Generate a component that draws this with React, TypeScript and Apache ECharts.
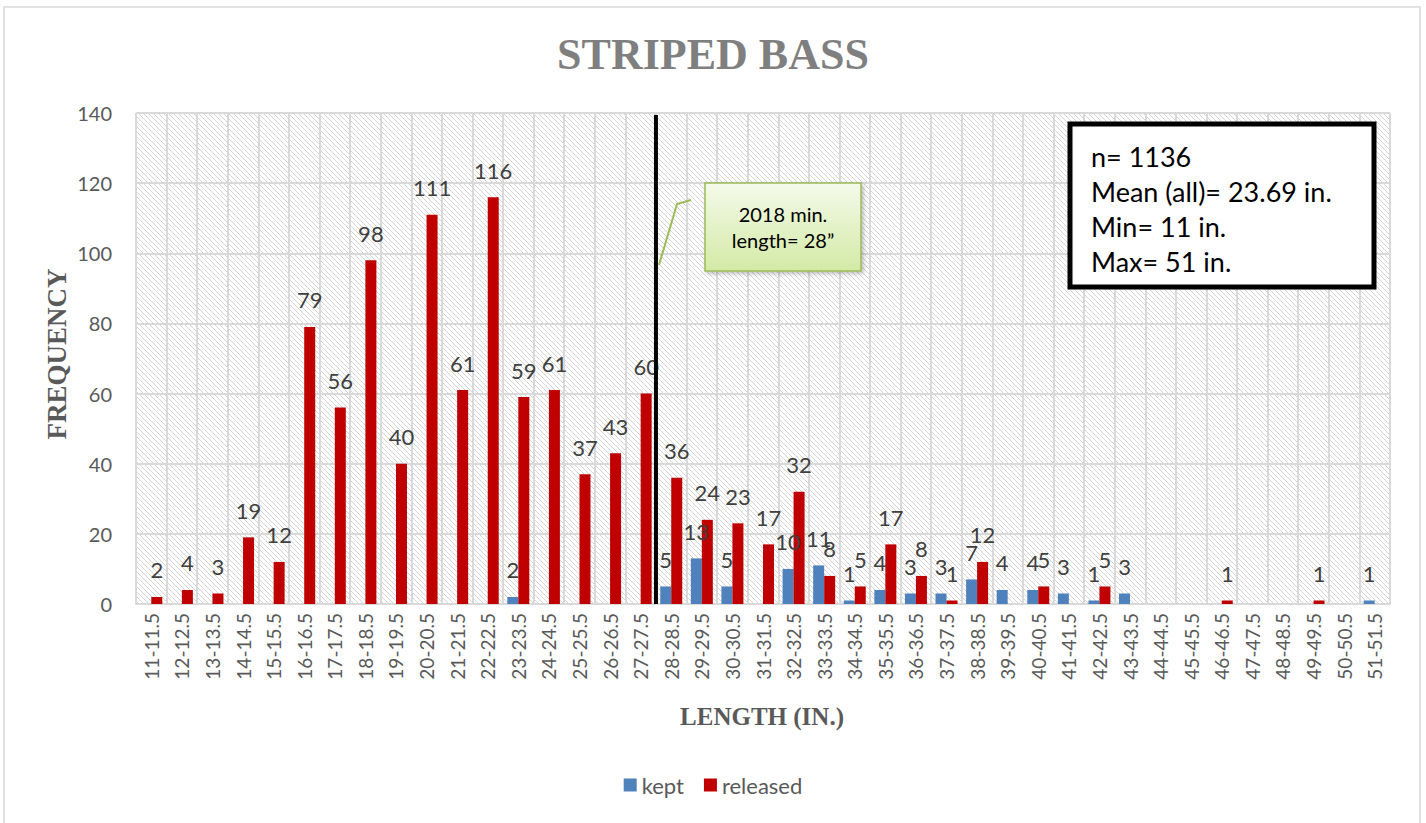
import React, { useEffect, useRef } from "react";
import * as echarts from "echarts";

const categories = [
  "11-11.5", "12-12.5", "13-13.5", "14-14.5", "15-15.5", "16-16.5", "17-17.5", "18-18.5",
  "19-19.5", "20-20.5", "21-21.5", "22-22.5", "23-23.5", "24-24.5", "25-25.5", "26-26.5",
  "27-27.5", "28-28.5", "29-29.5", "30-30.5", "31-31.5", "32-32.5", "33-33.5", "34-34.5",
  "35-35.5", "36-36.5", "37-37.5", "38-38.5", "39-39.5", "40-40.5", "41-41.5", "42-42.5",
  "43-43.5", "44-44.5", "45-45.5", "46-46.5", "47-47.5", "48-48.5", "49-49.5", "50-50.5",
  "51-51.5",
];

const kept = [
  0, 0, 0, 0, 0, 0, 0, 0, 0, 0, 0, 0, 2, 0, 0, 0, 0, 5, 13, 5, 0, 10, 11, 1, 4, 3, 3, 7, 4, 4,
  3, 1, 3, 0, 0, 0, 0, 0, 0, 0, 1,
];

const released = [
  2, 4, 3, 19, 12, 79, 56, 98, 40, 111, 61, 116, 59, 61, 37, 43, 60, 36, 24, 23, 17, 32, 8, 5,
  17, 8, 1, 12, 0, 5, 0, 5, 0, 0, 0, 1, 0, 0, 1, 0, 0,
];

const statsLines = ["n= 1136", "Mean (all)= 23.69 in.", "Min= 11 in.", "Max= 51 in."];
const calloutLines = ["2018 min.", "length= 28\u201D"];
const minLengthBoundary = [16, 17]; // between 27-27.5 and 28-28.5

const SANS = "Lato, 'Noto Sans', sans-serif";
const SERIF = "'Liberation Serif', 'DejaVu Serif', serif";

const hatchSvg =
  "<svg xmlns='http://www.w3.org/2000/svg' width='5' height='5'>" +
  "<path d='M0 0L5 5M-1 4L1 6M4 -1L6 1' stroke='#cfcfcf' stroke-width='0.9'/></svg>";
const hatchUrl = "data:image/svg+xml;charset=utf-8," + encodeURIComponent(hatchSvg);

export default function App() {
  const ref = useRef<HTMLDivElement>(null);

  useEffect(() => {
    if (!ref.current) return;
    document.body.style.margin = "0";
    const chart = echarts.init(ref.current, null, { renderer: "svg" });

    const labelFmt = (p: any) => (p.value > 0 ? String(p.value) : "");
    const labelStyle = {
      show: true,
      position: "top" as const,
      distance: 16,
      fontFamily: SANS,
      fontSize: 22,
      color: "#404040",
      formatter: labelFmt,
    };

    chart.setOption({
      animation: false,
      backgroundColor: "#ffffff",
      title: {
        text: "STRIPED BASS",
        left: "center",
        top: 27,
        textStyle: {
          fontFamily: SERIF,
          fontWeight: "bold",
          fontSize: 44,
          color: "#7f7f7f",
        },
      },
      legend: {
        bottom: 22,
        left: "center",
        itemWidth: 13,
        itemHeight: 13,
        itemGap: 20,
        icon: "rect",
        textStyle: { fontFamily: SANS, fontSize: 22, color: "#595959" },
        data: ["kept", "released"],
      },
      grid: {
        left: 136,
        right: 36,
        top: 113,
        bottom: 219,
        show: true,
        backgroundColor: {
          image: hatchUrl,
          repeat: "repeat",
          imageWidth: 5,
          imageHeight: 5,
        },
        borderColor: "#d9d9d9",
        borderWidth: 1,
      },
      xAxis: {
        type: "category",
        data: categories,
        axisLine: { lineStyle: { color: "#d9d9d9", width: 2 } },
        axisTick: { alignWithLabel: true, length: 6, lineStyle: { color: "#d9d9d9", width: 2 } },
        axisLabel: {
          interval: 0,
          rotate: 90,
          margin: 9,
          fontFamily: SANS,
          fontSize: 19,
          color: "#595959",
        },
        splitLine: { show: true, lineStyle: { color: "#d9d9d9", width: 2 } },
      },
      yAxis: {
        type: "value",
        min: 0,
        max: 140,
        interval: 20,
        axisLine: { show: false },
        axisTick: { show: false },
        axisLabel: { margin: 24, fontFamily: SANS, fontSize: 20, color: "#595959" },
        splitLine: { lineStyle: { color: "#d9d9d9", width: 2 } },
      },
      series: [
        {
          name: "kept",
          type: "bar",
          data: kept,
          barWidth: 11,
          barGap: "0%",
          itemStyle: { color: "#4f81bd" },
          label: labelStyle,
        },
        {
          name: "released",
          type: "bar",
          data: released,
          barWidth: 11,
          barGap: "0%",
          itemStyle: { color: "#c00000" },
          label: labelStyle,
        },
      ],
    });

    const p0 = chart.convertToPixel({ xAxisIndex: 0 }, minLengthBoundary[0]) as number;
    const p1 = chart.convertToPixel({ xAxisIndex: 0 }, minLengthBoundary[1]) as number;
    const lineX = (p0 + p1) / 2;
    const yTop = chart.convertToPixel({ yAxisIndex: 0 }, 140) as number;
    const yBot = chart.convertToPixel({ yAxisIndex: 0 }, 0) as number;

    chart.setOption({
      graphic: [
        {
          type: "rect",
          id: "outer",
          shape: { x: 4, y: 7, width: 1416, height: 840 },
          style: { fill: "none", stroke: "#d9d9d9", lineWidth: 1.5 },
          silent: true,
          z: 0,
        },
        {
          type: "line",
          id: "minline",
          shape: { x1: lineX, y1: yTop + 2, x2: lineX, y2: yBot },
          style: { stroke: "#000000", lineWidth: 4 },
          z: 10,
        },
        {
          type: "polyline",
          id: "callout-leader",
          shape: { points: [[691, 200], [677, 204], [659, 265]] },
          style: { stroke: "#9bbb59", lineWidth: 2, fill: "none" },
          z: 10,
        },
        {
          type: "rect",
          id: "callout-box",
          shape: { x: 705, y: 183, width: 156, height: 88 },
          style: {
            fill: new echarts.graphic.LinearGradient(0, 0, 0, 1, [
              { offset: 0, color: "#f4faea" },
              { offset: 1, color: "#d3eaa6" },
            ]),
            stroke: "#9bbb59",
            lineWidth: 1.5,
            shadowBlur: 4,
            shadowOffsetX: 2,
            shadowOffsetY: 2,
            shadowColor: "rgba(0,0,0,0.25)",
          },
          z: 10,
        },
        ...calloutLines.map((t, i) => ({
          type: "text",
          id: "callout-t" + i,
          x: 783,
          y: 214 + i * 26,
          style: {
            text: t,
            fontFamily: SANS,
            fontSize: 20,
            fill: "#000000",
            align: "center",
            verticalAlign: "middle",
          },
          z: 11,
        })),
        {
          type: "rect",
          id: "stats-box",
          shape: { x: 1070, y: 124, width: 304, height: 163 },
          style: { fill: "#ffffff", stroke: "#000000", lineWidth: 5 },
          z: 10,
        },
        ...statsLines.map((t, i) => ({
          type: "text",
          id: "stats-t" + i,
          x: 1091,
          y: 156 + i * 35,
          style: {
            text: t,
            fontFamily: SANS,
            fontSize: 27,
            fill: "#000000",
            align: "left",
            verticalAlign: "middle",
          },
          z: 11,
        })),
        {
          type: "text",
          id: "yname",
          x: 57,
          y: 354,
          rotation: Math.PI / 2,
          style: {
            text: "FREQUENCY",
            fontFamily: SERIF,
            fontWeight: "bold",
            fontSize: 27,
            fill: "#595959",
            align: "center",
            verticalAlign: "middle",
          },
        },
        {
          type: "text",
          id: "xname",
          x: 762,
          y: 716,
          style: {
            text: "LENGTH (IN.)",
            fontFamily: SERIF,
            fontWeight: "bold",
            fontSize: 25,
            fill: "#595959",
            align: "center",
            verticalAlign: "middle",
          },
        },
      ],
    });

    return () => chart.dispose();
  }, []);

  return <div ref={ref} style={{ width: 1426, height: 823 }} />;
}
